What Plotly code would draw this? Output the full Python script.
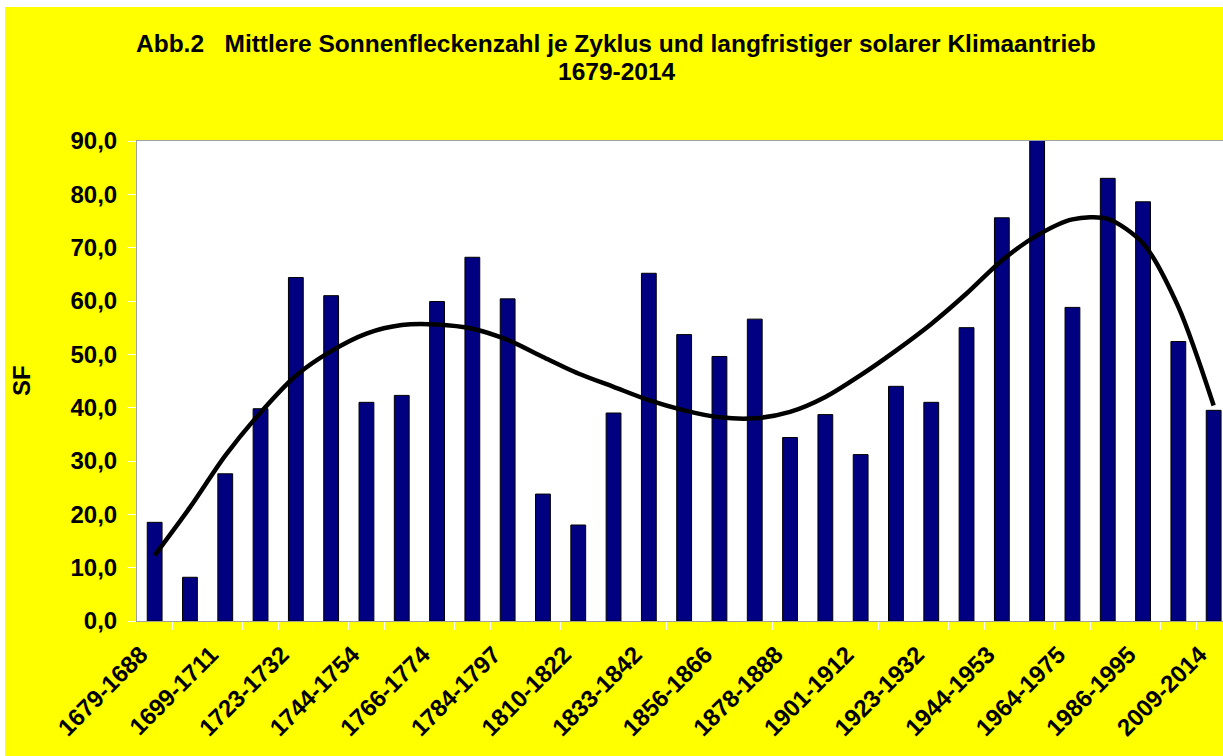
import plotly.graph_objects as go

# Mean sunspot number per solar cycle (31 cycles, 1679-2014)
sunspots = [18.5, 8.2, 27.6, 39.8, 64.4, 61.0, 41.0, 42.3, 59.9, 68.2, 60.4,
            23.8, 18.0, 39.0, 65.2, 53.7, 49.6, 56.6, 34.4, 38.7, 31.2, 44.0,
            41.0, 55.0, 75.6, 90.6, 58.8, 83.0, 78.6, 52.4, 39.5]

# Long-term trend curve at each cycle
trend = [12.3, 21.3, 31.0, 39.1, 46.0, 50.6, 53.9, 55.5, 55.6, 54.8, 52.7,
         49.5, 46.4, 43.9, 41.4, 39.5, 38.2, 38.0, 39.2, 42.0, 46.1, 50.7,
         55.7, 61.4, 67.6, 72.3, 75.3, 75.4, 70.8, 58.9, 40.4]

# Visible category labels (every second cycle)
tick_labels = ["1679-1688", "1699-1711", "1723-1732", "1744-1754", "1766-1774",
               "1784-1797", "1810-1822", "1833-1842", "1856-1866", "1878-1888",
               "1901-1912", "1923-1932", "1944-1953", "1964-1975", "1986-1995",
               "2009-2014"]

title_line1 = "Abb.2&nbsp;&nbsp; Mittlere Sonnenfleckenzahl je Zyklus und langfristiger solarer Klimaantrieb"
title_line2 = "1679-2014"
y_title = "SF"

FONT = "Liberation Sans, Arial, sans-serif"
idx = list(range(len(sunspots)))

fig = go.Figure()
fig.add_trace(go.Bar(
    x=idx, y=sunspots, width=0.42,
    marker=dict(color="#000080", line=dict(color="black", width=1)),
    cliponaxis=False, showlegend=False, name="SF",
))
fig.add_trace(go.Scatter(
    x=idx, y=trend, mode="lines",
    line=dict(color="black", width=4.5, shape="spline", smoothing=0.8),
    cliponaxis=False, showlegend=False, name="Trend",
))

W, H = 1223, 756
L, R, T, B = 137, 0, 141, 135
pw, ph = W - L - R, H - T - B

def px_x(x):
    return (x - L) / pw

def px_y(y):
    return 1 + (T - y) / ph

fig.update_layout(
    width=W, height=H,
    margin=dict(l=L, r=R, t=T, b=B, pad=0),
    paper_bgcolor="#FFFF00",
    plot_bgcolor="white",
    separators=",.",
    font=dict(family=FONT, color="black", size=24),
    shapes=[
        dict(type="rect", xref="paper", yref="paper", x0=-0.3, x1=1.1,
             y0=px_y(7), y1=px_y(-20), fillcolor="white", line=dict(width=0), layer="below"),
        dict(type="rect", xref="paper", yref="paper", x0=px_x(-20), x1=px_x(5),
             y0=-0.5, y1=px_y(7), fillcolor="white", line=dict(width=0), layer="below"),
    ],
    annotations=[
        dict(text="<b>" + title_line1 + "</b>", xref="paper", yref="paper",
             x=px_x(616), y=px_y(44), xanchor="center", yanchor="middle",
             showarrow=False, font=dict(size=24.5, family=FONT)),
        dict(text="<b>" + title_line2 + "</b>", xref="paper", yref="paper",
             x=px_x(617), y=px_y(72), xanchor="center", yanchor="middle",
             showarrow=False, font=dict(size=24.5, family=FONT)),
        dict(text="<b>" + y_title + "</b>", xref="paper", yref="paper",
             x=px_x(21), y=0.5, xanchor="center", yanchor="middle", textangle=-90,
             showarrow=False, font=dict(size=24, family=FONT)),
    ],
)

fig.update_xaxes(
    range=[-0.5, -0.5 + pw / 35.3],
    tickmode="array", tickvals=idx[::2], ticktext=["<b>" + t + "</b>" for t in tick_labels],
    tickangle=-45, ticks="", showgrid=False, zeroline=False,
    showline=True, linecolor="#A0A0A0", linewidth=1, mirror=True,
    tickfont=dict(size=24, family=FONT),
    ticklabelstandoff=9, ticklabelshift=-14,
    minor=dict(tickmode="linear", tick0=-0.5, dtick=1, ticks="outside",
               ticklen=8, tickwidth=1, tickcolor="white", showgrid=False),
    fixedrange=True,
)
fig.update_yaxes(
    range=[0, 90], dtick=10, tick0=0, tickformat=".1f",
    ticks="outside", ticklen=9, tickwidth=1, tickcolor="white",
    showgrid=False, zeroline=False,
    showline=True, linecolor="#A0A0A0", linewidth=1,
    tickfont=dict(size=24, family=FONT),
    tickprefix="<b>", ticksuffix="</b>",
    ticklabelstandoff=5,
    fixedrange=True,
)

fig.write_html("out.html", config={"displayModeBar": False},
               post_script="document.body.style.margin='0';document.body.style.padding='0';")
